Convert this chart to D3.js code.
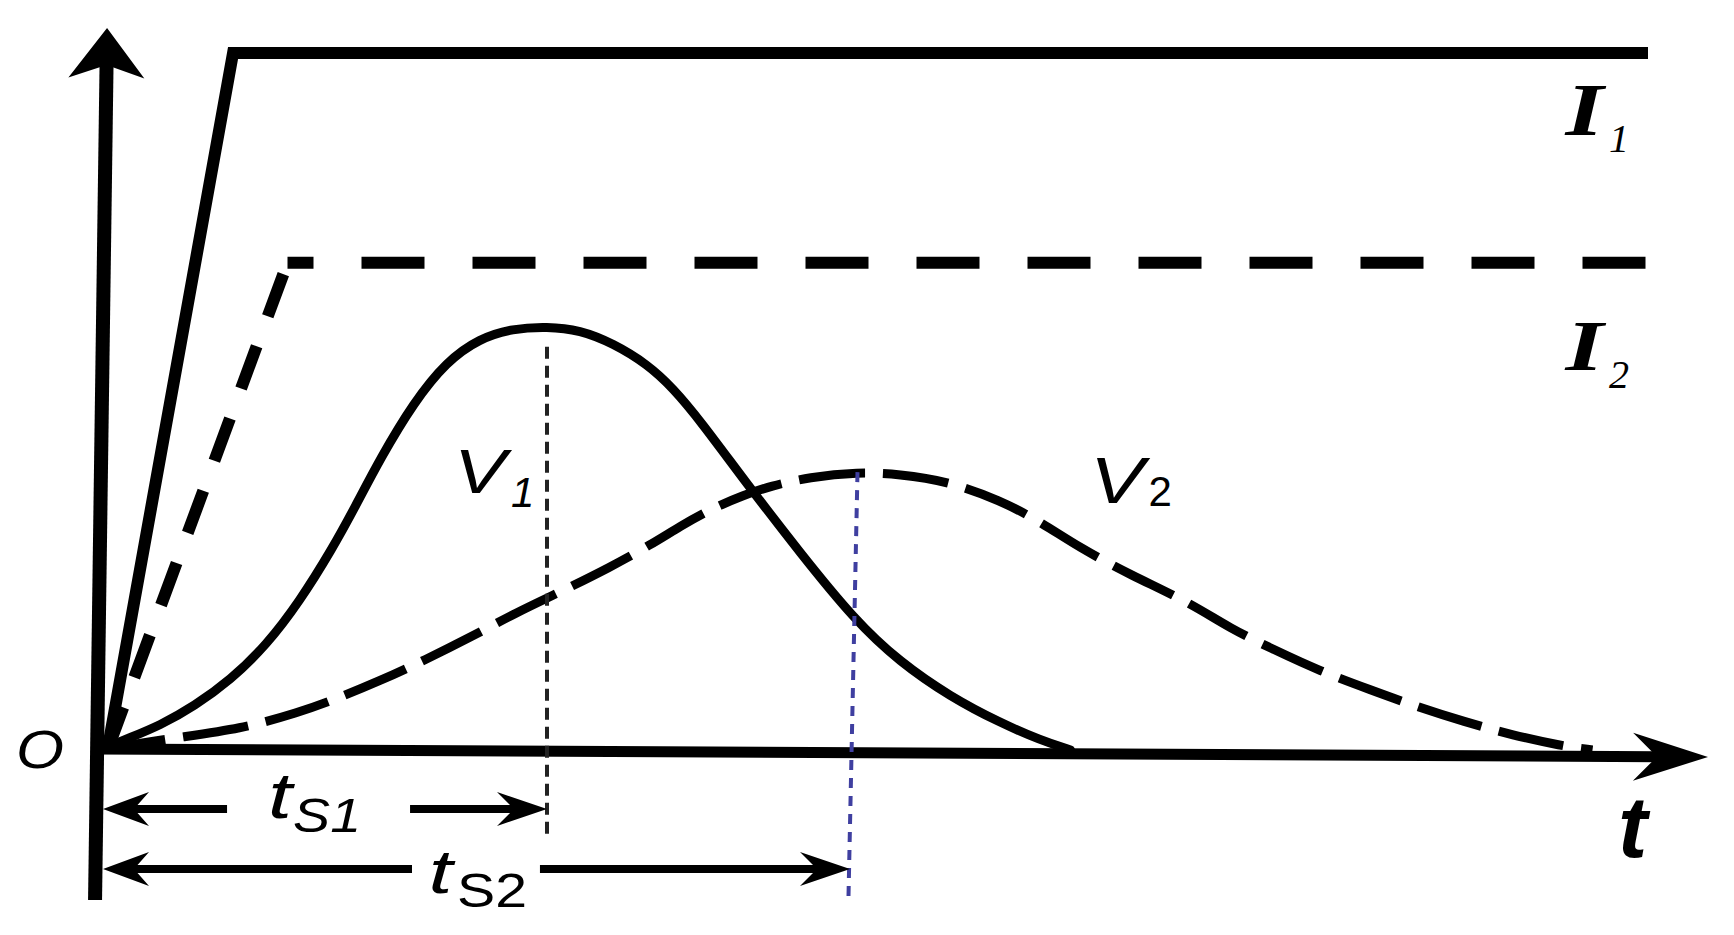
<!DOCTYPE html>
<html><head><meta charset="utf-8">
<script src="https://cdn.jsdelivr.net/npm/d3@7"></script>
<style>html,body{margin:0;padding:0;background:#fff;overflow:hidden}</style>
</head><body>
<svg id="c" width="1734" height="935"></svg>
<script>
// ---------------- data (t, value) ----------------
const I1 = [[0.05,0],[0.887,9.957],[10.32,9.957]];
const I2 = [[0.05,0],[1.25,6.96],[10.32,6.96]];
const V1 = [[0,0],[0.18,0.16],[0.40,0.35],[0.63,0.63],[0.87,1.00],[1.11,1.50],[1.33,2.12],[1.55,2.88],[1.70,3.47],[1.87,4.17],[2.09,4.96],[2.31,5.55],[2.53,5.88],[2.75,6.02],[2.98,6.05],[3.20,6.00],[3.42,5.81],[3.65,5.51],[3.82,5.17],[4.00,4.71],[4.31,3.81],[4.67,2.81],[5.03,1.86],[5.33,1.26],[5.67,0.76],[6.00,0.39],[6.27,0.14],[6.47,0]];
const V2 = [[0,0],[0.48,0.17],[0.94,0.30],[1.33,0.54],[1.55,0.71],[1.87,0.99],[2.17,1.29],[2.47,1.61],[2.78,1.97],[3.07,2.26],[3.40,2.61],[3.67,2.93],[3.87,3.20],[4.07,3.44],[4.29,3.64],[4.47,3.77],[4.73,3.90],[5.05,3.97],[5.33,3.94],[5.65,3.84],[6.00,3.57],[6.27,3.26],[6.53,2.89],[6.87,2.50],[7.27,2.10],[7.53,1.74],[7.83,1.43],[8.13,1.13],[8.47,0.86],[8.75,0.64],[9.10,0.40],[9.42,0.21],[9.74,0.06],[9.95,0]];
const tPeaks = [2.98, 5.05];          // t_S1, t_S2 (at curve peaks)
const vPeaks = [5.76, 3.97];
const seriesNames = ["I1","I2","V1","V2"];
const subLabels = ["S1","S2"];

// ---------------- scales ----------------
const x = d3.scaleLinear().domain([0,10]).range([100,1600]);
const y = d3.scaleLinear().domain([0,10]).range([750,50]);
const svg = d3.select("#c");
const P = d => [x(d[0]), y(d[1])];

// arrowhead helper (pixel geometry)
function head(tip, from, L, Wd, N){
  const dx = tip[0]-from[0], dy = tip[1]-from[1], len = Math.hypot(dx,dy);
  const ux = dx/len, uy = dy/len, px = -uy, py = ux;
  const pts = [tip,
    [tip[0]-ux*L+px*Wd, tip[1]-uy*L+py*Wd],
    [tip[0]-ux*N, tip[1]-uy*N],
    [tip[0]-ux*L-px*Wd, tip[1]-uy*L-py*Wd]];
  return {d:"M"+pts.map(p=>p.join(",")).join("L")+"Z", notch:[tip[0]-ux*(N-1), tip[1]-uy*(N-1)]};
}
function arrowLine(a, b, sw, L, Wd, N){
  const h = head(b, a, L, Wd, N);
  svg.append("line").attr("x1",a[0]).attr("y1",a[1]).attr("x2",h.notch[0]).attr("y2",h.notch[1])
    .attr("stroke","#000").attr("stroke-width",sw);
  svg.append("path").attr("d",h.d).attr("fill","#000");
}

// ---------------- axes ----------------
arrowLine(P([-0.033,-2.143]), P([0.047,10.314]), 14, 50, 38, 37);
arrowLine(P([-0.033,0.014]), P([10.72,-0.1]), 11, 75, 24, 51);

// ---------------- I1 (solid) ----------------
svg.append("path").attr("d", d3.line()(I1.map(P)))
  .attr("fill","none").attr("stroke","#000").attr("stroke-width",12).attr("stroke-linejoin","miter");

// ---------------- I2 (dashed) ----------------
svg.append("path").attr("d", d3.line()([I2[1],I2[0]].map(P)))
  .attr("fill","none").attr("stroke","#000").attr("stroke-width",12)
  .attr("stroke-dasharray","45,32").attr("stroke-dashoffset",65);
svg.append("path").attr("d", d3.line()([I2[1],I2[2]].map(P)))
  .attr("fill","none").attr("stroke","#000").attr("stroke-width",12)
  .attr("stroke-dasharray","63,48").attr("stroke-dashoffset",37);

// ---------------- V1, V2 ----------------
const curve = d3.line().curve(d3.curveBasis);
svg.append("path").attr("d", curve(V1.map(P)))
  .attr("fill","none").attr("stroke","#000").attr("stroke-width",9).attr("stroke-linecap","round");
svg.append("path").attr("d", curve(V2.map(P)))
  .attr("fill","none").attr("stroke","#000").attr("stroke-width",9)
  .attr("stroke-dasharray","66,18");

// ---------------- guide lines ----------------
svg.append("line").attr("x1",x(tPeaks[0])).attr("y1",y(vPeaks[0])).attr("x2",x(tPeaks[0])).attr("y2",y(-1.26))
  .attr("stroke","#222").attr("stroke-width",4).attr("stroke-dasharray","12,7");
svg.append("line").attr("x1",x(tPeaks[1])).attr("y1",y(vPeaks[1])).attr("x2",x(tPeaks[1]-0.06)).attr("y2",y(-2.086))
  .attr("stroke","#3f3fa0").attr("stroke-width",4).attr("stroke-dasharray","10,8");

// ---------------- dimension arrows ----------------
function dimArrow(v, t0, t1, gap0, gap1){
  const a = P([t0,v]), b = P([t1,v]);
  const hl = head(a, b, 46, 17, 31), hr = head(b, a, 50, 17, 33);
  svg.append("path").attr("d",hl.d).attr("fill","#000");
  svg.append("path").attr("d",hr.d).attr("fill","#000");
  svg.append("line").attr("x1",hl.notch[0]).attr("y1",a[1]).attr("x2",x(gap0)).attr("y2",a[1])
    .attr("stroke","#000").attr("stroke-width",8);
  svg.append("line").attr("x1",x(gap1)).attr("y1",a[1]).attr("x2",hr.notch[0]).attr("y2",a[1])
    .attr("stroke","#000").attr("stroke-width",8);
}
dimArrow(-0.843, 0.02, tPeaks[0], 0.847, 2.067);
dimArrow(-1.70, 0.02, tPeaks[1]-0.05, 2.08, 2.933);

// ---------------- text ----------------
const sans = "'Liberation Sans', Arial, sans-serif";
const serif = "'Liberation Serif', 'Times New Roman', serif";
function txt(t, v, s, size, fam, style, weight, len){
  const e = svg.append("text").attr("x",x(t)).attr("y",y(v)).text(s)
    .attr("font-size",size).attr("font-family",fam).attr("font-style",style||"normal")
    .attr("font-weight",weight||"normal").attr("fill","#000");
  if(len) e.attr("textLength",len).attr("lengthAdjust","spacingAndGlyphs");
  return e;
}
txt(-0.56,-0.257,"O",54,sans,"italic","normal",48);
txt(10.12,-1.529,"t",88,sans,"italic","bold");
// I labels
txt(9.77,8.79,"I",74,serif,"italic","bold",38);
txt(10.06,8.54,"1",40,serif,"italic","normal");
txt(9.77,5.43,"I",72,serif,"italic","bold",38);
txt(10.06,5.17,"2",40,serif,"italic","normal");
// V labels
txt(2.36,3.67,"V",63,sans,"italic","normal",52);
txt(2.74,3.47,"1",42,sans,"italic");
txt(6.60,3.53,"V",65,sans,"italic","normal",54);
txt(6.99,3.49,"2",42,sans,"normal");
// t_S labels
txt(1.12,-0.971,"t",64,sans,"italic","normal",24);
txt(1.287,-1.171,subLabels[0],49,sans,"italic","normal",68);
txt(2.19,-2.043,"t",62,sans,"italic","normal",24);
txt(2.38,-2.243,subLabels[1],48,sans,"normal","normal",70);
</script>
</body></html>
